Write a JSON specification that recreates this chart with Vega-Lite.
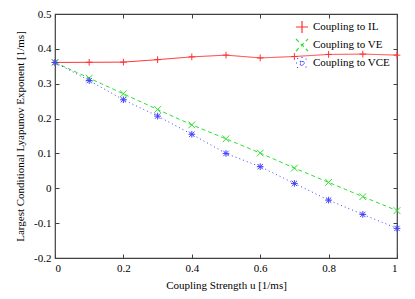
{
  "$schema": "https://vega.github.io/schema/vega-lite/v6.json",
  "width": 342,
  "height": 244,
  "autosize": "none",
  "padding": {"left": 55, "top": 14, "right": 18, "bottom": 41},
  "background": "white",
  "config": {
    "font": "Liberation Serif",
    "view": {"stroke": "#404040", "strokeWidth": 1.2},
    "axis": {
      "grid": false,
      "domain": false,
      "tickSize": -4,
      "tickColor": "#404040",
      "labelFont": "Liberation Serif",
      "labelFontSize": 11,
      "labelColor": "#000",
      "titleFont": "Liberation Serif",
      "titleFontSize": 11,
      "titleFontWeight": "normal",
      "titleColor": "#000",
      "labelExpr": "replace(format(datum.value, '~g'), '−', '-')"
    },
    "legend": {
      "labelFont": "Liberation Serif",
      "labelFontSize": 11,
      "labelColor": "#000"
    }
  },
  "resolve": {"axis": {"x": "independent", "y": "independent"}},
  "data": {
    "values": [
      {"u": 0.0, "v": 0.361, "s": "Coupling to IL"},
      {"u": 0.1, "v": 0.3615, "s": "Coupling to IL"},
      {"u": 0.2, "v": 0.362, "s": "Coupling to IL"},
      {"u": 0.3, "v": 0.369, "s": "Coupling to IL"},
      {"u": 0.4, "v": 0.377, "s": "Coupling to IL"},
      {"u": 0.5, "v": 0.382, "s": "Coupling to IL"},
      {"u": 0.6, "v": 0.374, "s": "Coupling to IL"},
      {"u": 0.7, "v": 0.378, "s": "Coupling to IL"},
      {"u": 0.8, "v": 0.384, "s": "Coupling to IL"},
      {"u": 0.9, "v": 0.385, "s": "Coupling to IL"},
      {"u": 1.0, "v": 0.382, "s": "Coupling to IL"},
      {"u": 0.0, "v": 0.361, "s": "Coupling to VE"},
      {"u": 0.1, "v": 0.316, "s": "Coupling to VE"},
      {"u": 0.2, "v": 0.271, "s": "Coupling to VE"},
      {"u": 0.3, "v": 0.226, "s": "Coupling to VE"},
      {"u": 0.4, "v": 0.182, "s": "Coupling to VE"},
      {"u": 0.5, "v": 0.142, "s": "Coupling to VE"},
      {"u": 0.6, "v": 0.101, "s": "Coupling to VE"},
      {"u": 0.7, "v": 0.058, "s": "Coupling to VE"},
      {"u": 0.8, "v": 0.017, "s": "Coupling to VE"},
      {"u": 0.9, "v": -0.024, "s": "Coupling to VE"},
      {"u": 1.0, "v": -0.064, "s": "Coupling to VE"},
      {"u": 0.0, "v": 0.361, "s": "Coupling to VCE"},
      {"u": 0.1, "v": 0.309, "s": "Coupling to VCE"},
      {"u": 0.2, "v": 0.254, "s": "Coupling to VCE"},
      {"u": 0.3, "v": 0.207, "s": "Coupling to VCE"},
      {"u": 0.4, "v": 0.155, "s": "Coupling to VCE"},
      {"u": 0.5, "v": 0.1, "s": "Coupling to VCE"},
      {"u": 0.6, "v": 0.062, "s": "Coupling to VCE"},
      {"u": 0.7, "v": 0.014, "s": "Coupling to VCE"},
      {"u": 0.8, "v": -0.034, "s": "Coupling to VCE"},
      {"u": 0.9, "v": -0.075, "s": "Coupling to VCE"},
      {"u": 1.0, "v": -0.115, "s": "Coupling to VCE"}
    ]
  },
  "layer": [
    {
      "mark": {"type": "line", "strokeWidth": 1},
      "encoding": {
        "x": {
          "field": "u", "type": "quantitative",
          "scale": {"domain": [0, 1], "nice": false, "zero": false},
          "axis": {"title": "Coupling Strength u [1/ms]", "values": [0, 0.2, 0.4, 0.6, 0.8, 1], "labelPadding": 8, "titlePadding": 6}
        },
        "y": {
          "field": "v", "type": "quantitative",
          "scale": {"domain": [-0.2, 0.5], "nice": false, "zero": false},
          "axis": {"title": "Largest Conditional Lyapunov Exponent [1/ms]", "values": [-0.2, -0.1, 0, 0.1, 0.2, 0.3, 0.4, 0.5], "labelPadding": 8, "titlePadding": 8}
        },
        "color": {
          "field": "s", "type": "nominal",
          "scale": {
            "domain": ["Coupling to IL", "Coupling to VE", "Coupling to VCE"],
            "range": ["#ff3030", "#30e030", "#4040ff"]
          },
          "legend": {"title": null, "orient": "top-right", "offset": 6, "padding": 0, "rowPadding": 0, "symbolType": "stroke", "symbolSize": 144, "symbolStrokeWidth": 1.2}
        },
        "strokeDash": {
          "field": "s", "type": "nominal",
          "scale": {
            "domain": ["Coupling to IL", "Coupling to VE", "Coupling to VCE"],
            "range": [[1, 0], [4, 3], [1, 3]]
          },
          "legend": null
        }
      }
    },
    {
      "mark": {"type": "point", "filled": false, "strokeWidth": 1, "size": 45, "opacity": 1},
      "encoding": {
        "x": {"field": "u", "type": "quantitative", "axis": null},
        "y": {"field": "v", "type": "quantitative", "axis": null},
        "color": {
          "field": "s", "type": "nominal",
          "legend": {"title": null, "orient": "top-right", "offset": 6, "padding": 0, "rowPadding": 0, "symbolType": "stroke", "symbolSize": 144, "symbolStrokeWidth": 1.2}
        },
        "shape": {
          "field": "s", "type": "nominal",
          "scale": {
            "domain": ["Coupling to IL", "Coupling to VE", "Coupling to VCE"],
            "range": ["M-1,0L1,0M0,-1L0,1", "M-1,-1L1,1M-1,1L1,-1", "M-1,0L1,0M0,-1L0,1M-0.8,-0.8L0.8,0.8M-0.8,0.8L0.8,-0.8"]
          },
          "legend": null
        }
      }
    },
    {
      "mark": {"type": "point", "opacity": 0},
      "encoding": {
        "x": {"field": "u", "type": "quantitative", "axis": {"orient": "top", "labels": false, "title": null, "values": [0, 0.2, 0.4, 0.6, 0.8, 1]}},
        "y": {"field": "v", "type": "quantitative", "axis": {"orient": "right", "labels": false, "title": null, "values": [-0.2, -0.1, 0, 0.1, 0.2, 0.3, 0.4, 0.5]}}
      }
    }
  ]
}
